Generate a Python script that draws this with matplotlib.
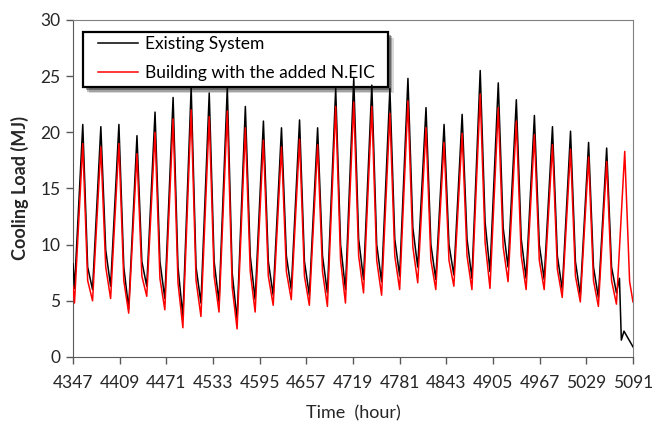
import numpy as np
import matplotlib
matplotlib.use("Agg")
import matplotlib.pyplot as plt
from matplotlib.patches import Rectangle

plt.rcParams['font.family'] = ['Lato', 'DejaVu Sans']

# daily values (day 1 starts at hour 4347)
black_peak = [20.7, 20.5, 20.7, 19.7, 21.8, 23.1, 24.0, 23.5, 24.0, 22.3,
              21.0, 20.4, 21.1, 20.4, 23.9, 24.8, 24.2, 23.9, 24.8, 22.2,
              20.7, 21.6, 25.5, 24.4, 22.9, 21.5, 20.5, 20.1, 19.1, 18.6]
black_min = [6.1, 6.0, 6.3, 4.3, 6.3, 5.2, 3.6, 4.8, 4.9, 3.3,
             5.1, 5.5, 6.0, 5.5, 5.7, 6.0, 6.9, 6.7, 7.2, 8.0,
             6.9, 7.3, 7.0, 7.6, 8.0, 7.0, 6.9, 6.0, 5.5, 5.3, 5.7]
black_knee = [8.0, 9.5, 8.0, 8.5, 8.5, 8.0, 8.0, 8.5, 7.5, 9.0,
              8.5, 9.0, 8.5, 9.0, 10.0, 10.5, 10.0, 10.5, 11.5, 10.0,
              10.0, 10.5, 12.0, 11.5, 10.5, 10.0, 9.0, 8.5, 8.0, 8.0]

red_peak = [19.0, 18.7, 19.0, 18.1, 20.0, 21.2, 22.0, 21.4, 21.9, 20.4,
            19.3, 18.7, 19.4, 18.9, 22.3, 22.7, 22.3, 21.7, 22.8, 20.4,
            19.1, 19.9, 23.4, 22.2, 21.0, 19.8, 18.9, 18.5, 17.8, 17.4, 18.3]
red_min = [4.8, 5.0, 5.2, 3.9, 5.4, 4.2, 2.6, 3.6, 4.0, 2.5,
           4.0, 4.6, 5.1, 4.6, 4.5, 4.8, 5.7, 5.5, 6.0, 6.6,
           6.0, 6.3, 6.0, 6.1, 6.7, 6.0, 6.0, 5.3, 4.9, 4.5, 4.7]
red_knee = [6.8, 8.0, 6.8, 7.2, 7.0, 6.6, 6.8, 7.2, 6.2, 7.6,
            7.2, 7.6, 7.2, 7.6, 8.6, 9.0, 8.6, 9.0, 9.8, 8.6,
            8.6, 9.0, 10.2, 9.8, 9.0, 8.6, 7.8, 7.2, 6.8, 6.8, 6.7]

start_black, start_red = 8.3, 6.3
black_tail_hours = [5073, 5075.5, 5079, 5091]
black_tail_vals = [7.0, 1.5, 2.3, 0.9]
red_end = 4.9

h0, h1 = 4347, 5091
xticks = list(range(4347, 5092, 62))

# hour of day for the min / peak / knee points
off_min, off_peak, off_knee = 2, 13, 19.5


def build(mins, peaks, knees, start):
    hrs, vals = [h0], [start]
    for i in range(len(peaks)):
        d = h0 + 24 * i
        hrs += [d + off_min, d + off_peak, d + off_knee]
        vals += [mins[i], peaks[i], knees[i]]
    return hrs, vals


bx, by = build(black_min, black_peak, black_knee, start_black)
bx += [h0 + 24 * 30 + off_min] + black_tail_hours
by += [black_min[30]] + black_tail_vals

rx, ry = build(red_min, red_peak, red_knee, start_red)
rx += [h1]
ry += [red_end]

fig = plt.figure(figsize=(6.54, 4.28), dpi=100)
ax = fig.add_axes([0.1116, 0.166, 0.8563, 0.7873])

ax.plot(bx, by, color='black', lw=1.1, label='Existing System', zorder=3)
ax.plot(rx, ry, color='#ff0000', lw=1.1, label='Building with the added N.EIC', zorder=4)

ax.set_xlim(h0, h1)
ax.set_ylim(0, 30)
ax.set_xticks(xticks)
ax.set_yticks(range(0, 31, 5))
ax.tick_params(axis='both', direction='out', length=5, width=1,
               color='#595959', labelsize=12.5, labelcolor='#262626', pad=4)
ax.tick_params(axis='x', pad=8)
for s in ['left', 'bottom']:
    ax.spines[s].set_color('#595959')
for s in ['top', 'right']:
    ax.spines[s].set_color('#808080')

ax.set_ylabel('Cooling Load (MJ)', fontsize=13, fontweight='bold', color='#262626', labelpad=8)
ax.set_xlabel('Time  (hour)', fontsize=13, color='#262626', labelpad=10)

# legend box with a soft drop shadow (drawn by hand, lines go over it)
bx0, by0, bw, bh = 0.0173, 0.801, 0.5447, 0.1634
for k, a in [(6, 0.15), (4.5, 0.25), (3, 0.35)]:
    ax.add_patch(Rectangle((bx0 + k / 560, by0 - k / 337), bw, bh, transform=ax.transAxes,
                           facecolor='black', edgecolor='none', alpha=a, zorder=1))
ax.add_patch(Rectangle((bx0, by0), bw, bh, transform=ax.transAxes, facecolor='white',
                       edgecolor='black', lw=1.6, zorder=1.1))

leg = ax.legend(loc='upper left', bbox_to_anchor=(0.044, 0.951), borderaxespad=0,
                fontsize=12.5, frameon=False, handlelength=2.3,
                handletextpad=0.4, borderpad=0, labelspacing=0.7)
leg.set_zorder(2)

fig.savefig('out.png', dpi=100)
